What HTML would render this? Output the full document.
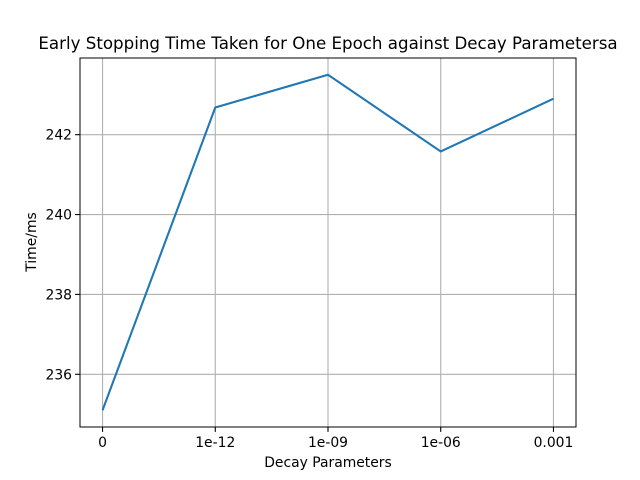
<!DOCTYPE html>
<html><head><meta charset="utf-8"><style>
body{margin:0;background:#fff;}
svg{display:block;font-family:"DejaVu Sans","Liberation Sans",sans-serif;}
</style></head><body>
<svg id="chart" width="640" height="480">
<rect x="0" y="0" width="640" height="480" fill="#fff"/>
<g id="grid"></g>
<g id="ticks"></g>
<polyline id="line" fill="none" stroke="#1f77b4" stroke-width="2.08"/>
<rect x="80" y="58" width="496" height="369" fill="none" stroke="#000" stroke-width="1"/>
<text x="328" y="49" font-size="16.67" text-anchor="middle">Early Stopping Time Taken for One Epoch against Decay Parametersa</text>
<text x="328" y="467" font-size="13.9" text-anchor="middle">Decay Parameters</text>
<text x="36" y="242" font-size="13.9" text-anchor="middle" transform="rotate(-90 36 242)">Time/ms</text>
</svg>
<script>
const categories = ["0","1e-12","1e-09","1e-06","0.001"];
const values = [235.1, 242.68, 243.5, 241.58, 242.9];
const yTicks = [236, 238, 240, 242];
const L=80,R=576,T=58,B=427;
const xMin=-0.2,xMax=categories.length-1+0.2;
const vmin=Math.min(...values),vmax=Math.max(...values),m=(vmax-vmin)*0.05;
const yMin=vmin-m,yMax=vmax+m;
const xs=i=>L+(i-xMin)/(xMax-xMin)*(R-L);
const ys=v=>B-(v-yMin)/(yMax-yMin)*(B-T);
const NS="http://www.w3.org/2000/svg";
const grid=document.getElementById('grid'),ticks=document.getElementById('ticks');
function mk(tag,attrs,parent,txt){const e=document.createElementNS(NS,tag);for(const k in attrs)e.setAttribute(k,attrs[k]);if(txt!==undefined)e.textContent=txt;parent.appendChild(e);return e;}
categories.forEach((c,i)=>{
  const x=xs(i);
  const g=mk('line',{x1:x,x2:x,y1:T,y2:B,stroke:'#b0b0b0','stroke-width':1.1},grid);
  
  
  const t=mk('line',{x1:x,x2:x,y1:B,y2:B+4.9,stroke:'#000','stroke-width':1.1},ticks);
  
  
  const l=mk('text',{x:x,y:B+20,'font-size':13.9,'text-anchor':'middle'},ticks,c);
  
  
});
yTicks.forEach(v=>{
  const y=ys(v);
  const g=mk('line',{x1:L,x2:R,y1:y,y2:y,stroke:'#b0b0b0','stroke-width':1.1},grid);
  
  
  const t=mk('line',{x1:L-4.9,x2:L,y1:y,y2:y,stroke:'#000','stroke-width':1.1},ticks);
  
  
  const l=mk('text',{x:L-8,y:y+5,'font-size':13.9,'text-anchor':'end'},ticks,String(v));
  
  
});
document.getElementById('line').setAttribute('points',values.map((v,i)=>xs(i)+','+ys(v)).join(' '));
</script>
</body></html>
